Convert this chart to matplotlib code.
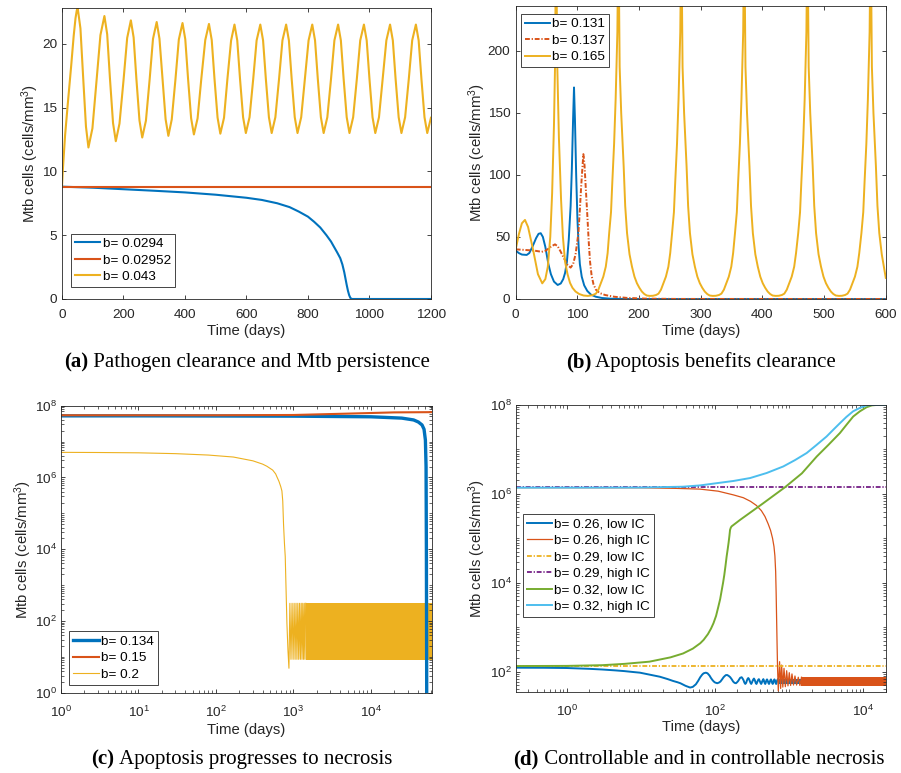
import numpy as np
import matplotlib
matplotlib.use("Agg")
import matplotlib.pyplot as plt
from matplotlib.ticker import FixedLocator, LogLocator, NullFormatter, LogFormatterSciNotation
from matplotlib.offsetbox import TextArea, HPacker, AnnotationBbox

plt.rcParams['font.family'] = ['Liberation Sans', 'DejaVu Sans']
plt.rcParams['mathtext.default'] = 'regular'
plt.rcParams['lines.scale_dashes'] = False
plt.rcParams['axes.linewidth'] = 0.6
plt.rcParams['axes.edgecolor'] = '#262626'

# MATLAB default colours
c1, c2, c3, c4, c5, c6 = '#0072BD', '#D95319', '#EDB120', '#7E2F8E', '#77AC30', '#4DBEEE'
dashdot = (3.5, 1.3, 0.9, 1.3)

# ---------------- panel (a) data ----------------
a_t_0294 = [0, 100, 200, 300, 400, 500, 600, 650, 700, 740, 770, 800, 820, 840, 860, 875, 882,
            895, 905, 912, 918, 922, 926, 930, 934, 938, 943, 1200]
a_v_0294 = [8.8, 8.72, 8.6, 8.48, 8.35, 8.17, 7.93, 7.76, 7.5, 7.2, 6.85, 6.45, 6.05, 5.6, 5.0,
            4.5, 4.2, 3.65, 3.2, 2.7, 2.1, 1.6, 1.1, 0.65, 0.3, 0.08, 0, 0]
a_t_02952 = [0, 1200]
a_v_02952 = [8.8, 8.8]
a_t_043 = [0, 3, 10, 20, 30, 38, 44, 48, 51,
           60, 69, 78, 86, 99, 112, 125, 138,
           147, 156, 166, 175, 187, 200, 212, 224,
           233, 242, 252, 261, 273, 285, 296, 308,
           317, 327, 337, 346, 357, 369, 380, 392,
           401, 410, 420, 429, 441, 453, 466, 478,
           487, 496, 506, 515, 527, 538, 550, 561,
           570, 579, 589, 598, 610, 622, 633, 645,
           654, 663, 673, 682, 694, 706, 717, 729,
           738, 747, 757, 766, 778, 790, 802, 814,
           823, 832, 842, 851, 863, 875, 886, 898,
           907, 916, 926, 935, 947, 959, 970, 982,
           991, 1000, 1010, 1019, 1031, 1043, 1055, 1067,
           1076, 1085, 1095, 1104, 1116, 1128, 1139, 1151,
           1160, 1169, 1179, 1188, 1200]
a_v_043 = [8.8, 10.2, 12.8, 15.6, 18.3, 20.6, 22.0, 22.6, 22.8,
           21.2, 17.3, 13.5, 11.87, 13.37, 17.0, 20.67, 22.17,
           20.74, 17.27, 13.79, 12.36, 13.74, 17.1, 20.45, 21.83,
           20.49, 17.24, 13.99, 12.65, 13.97, 17.18, 20.38, 21.70,
           20.4, 17.24, 14.08, 12.78, 14.07, 17.2, 20.33, 21.62,
           20.35, 17.26, 14.16, 12.89, 14.15, 17.22, 20.29, 21.55,
           20.29, 17.25, 14.21, 12.95, 14.2, 17.23, 20.25, 21.5,
           20.26, 17.25, 14.24, 13.0, 14.24, 17.25, 20.26, 21.5,
           20.26, 17.25, 14.24, 13.0, 14.24, 17.25, 20.26, 21.5,
           20.26, 17.25, 14.24, 13.0, 14.24, 17.25, 20.26, 21.5,
           20.26, 17.25, 14.24, 13.0, 14.24, 17.25, 20.26, 21.5,
           20.26, 17.25, 14.24, 13.0, 14.24, 17.25, 20.26, 21.5,
           20.26, 17.25, 14.24, 13.0, 14.24, 17.25, 20.26, 21.5,
           20.26, 17.25, 14.24, 13.0, 14.24, 17.25, 20.26, 21.5,
           20.26, 17.25, 14.24, 13.0, 14.2]

# ---------------- panel (b) data ----------------
b_t_131 = [0, 5, 10, 17.8, 22, 27, 33, 37, 40.5, 44, 48, 53, 57, 62, 68, 73, 77, 80, 83, 86, 89,
           91, 93, 94.5, 96, 98, 100, 102, 104, 107, 111, 116, 122, 130, 140, 155, 180, 600]
b_v_131 = [39, 37, 35.8, 35.5, 37, 42, 49, 52.5, 53, 50, 42, 28, 20, 14, 11.3, 12.5, 16, 21, 30,
           48, 75, 105, 145, 170.4, 145, 100, 65, 42, 28, 18, 11, 6.5, 3.5, 1.8, 0.8, 0.2, 0, 0]
b_t_137 = [0, 15, 30, 42, 48, 53, 58, 63.7, 68, 73, 78, 84, 89, 93, 97, 101.6, 104, 106, 108,
           109.7, 111.5, 113.5, 116, 118.5, 120.5, 123, 126, 130, 136, 145, 160, 180, 210, 260,
           600]
b_v_137 = [40, 39.5, 39, 38, 38.8, 40.5, 42.5, 44, 42.5, 38, 33, 27.5, 25.3, 28, 36, 53, 72, 90,
           105, 116.7, 108, 90, 68, 45, 30, 19, 12, 7.5, 4.8, 3.2, 1.8, 0.9, 0.3, 0.05, 0]
b_t_165 = [0, 5, 10, 15, 20, 28, 36, 43, 48, 52, 56, 59, 62, 63.7, 65.4, 67.4, 70, 73.5, 76.5,
           80, 84, 88, 92, 97, 103, 110, 117, 124, 130, 134, 138, 142, 146, 149,
           151.5, 154.5, 156.5, 159.5, 162, 164.8, 166.5, 168.5, 171, 175, 177.5, 180.5, 184.5,
           188.5, 192.5, 196.5, 200.5, 204.5, 208.5, 212.5, 217.5, 222.5, 227.5, 231.5, 235.5,
           239.5, 243.5, 247.5, 250.5,
           253.5, 256.5, 258.5, 261.5, 264, 266.8, 268.5, 270.5, 273, 277, 279.5, 282.5, 286.5,
           290.5, 294.5, 298.5, 302.5, 306.5, 310.5, 314.5, 319.5, 324.5, 329.5, 333.5, 337.5,
           341.5, 345.5, 349.5, 352.5,
           355.5, 358.5, 360.5, 363.5, 366, 368.8, 370.5, 372.5, 375, 379, 381.5, 384.5, 388.5,
           392.5, 396.5, 400.5, 404.5, 408.5, 412.5, 416.5, 421.5, 426.5, 431.5, 435.5, 439.5,
           443.5, 447.5, 451.5, 454.5,
           458, 461, 463, 466, 468.5, 471.3, 473, 475, 477.5, 481.5, 484, 487, 491,
           495, 499, 503, 507, 511, 515, 519, 524, 529, 534, 538, 542,
           546, 550, 554, 557,
           560.5, 563.5, 565.5, 568.5, 571, 573.8, 575.5, 577.5, 580, 584, 586.5, 589.5, 593.5,
           597.5, 600]
b_v_165 = [40, 52, 61, 63.7, 58, 40, 20, 12.6, 16, 26, 50, 85, 140, 187, 300, 187, 130, 80, 50,
           30, 20, 13, 9, 6, 4, 2.8, 2.5, 3, 4.3, 7.5, 12.7, 18, 26, 37,
           53, 70, 93, 125, 161, 215, 300, 187, 150, 107, 75, 53, 36, 26, 18, 12.7, 9, 6, 4, 2.8,
           2.5, 2.6, 3.2, 4.3, 7.5, 12.7, 18, 26, 37,
           53, 70, 93, 125, 161, 215, 300, 187, 150, 107, 75, 53, 36, 26, 18, 12.7, 9, 6, 4, 2.8,
           2.5, 2.6, 3.2, 4.3, 7.5, 12.7, 18, 26, 37,
           53, 70, 93, 125, 161, 215, 300, 187, 150, 107, 75, 53, 36, 26, 18, 12.7, 9, 6, 4, 2.8,
           2.5, 2.6, 3.2, 4.3, 7.5, 12.7, 18, 26, 37,
           53, 70, 93, 125, 161, 215, 300, 187, 150, 107, 75, 53, 36, 26, 18, 12.7, 9, 6, 4, 2.8,
           2.5, 2.6, 3.2, 4.3, 7.5, 12.7, 18, 26, 37,
           53, 70, 93, 125, 161, 215, 300, 187, 150, 107, 75, 53, 36, 24, 17]

# ---------------- panel (c) data ----------------
c_t_134 = [1, 10, 100, 1e3, 1e4, 2.5e4, 3.56e4, 4.1e4, 4.57e4, 4.85e4, 5.05e4, 5.15e4, 5.2e4,
           5.25e4, 5.3e4]
c_v_134 = [5.2e7, 5.2e7, 5.15e7, 5.1e7, 4.9e7, 4.5e7, 4.0e7, 3.5e7, 2.9e7, 2.2e7, 1.1e7, 2e6,
           1e4, 1.0, 0.01]
c_t_15 = [1, 100, 1e3, 5e3, 2e4, 6.15e4]
c_v_15 = [5.4e7, 5.4e7, 5.5e7, 6.0e7, 6.5e7, 6.6e7]
c_t_2 = [1, 3, 10, 30, 80, 168, 300, 400, 454, 540, 590, 612, 650, 685, 710, 728, 745, 765, 784,
         804, 824, 850, 875,
         900, 930, 960, 990, 1020, 1050, 1080, 1110, 1140, 1170, 1200, 1230, 1260, 1290,
         1320, 1350, 1380, 1410, 1440]
c_v_2 = [5e6, 4.95e6, 4.85e6, 4.6e6, 4.2e6, 3.7e6, 2.9e6, 2.35e6, 2.05e6, 1.6e6, 1.25e6, 1.04e6,
         7.8e5, 5.6e5, 4.2e5, 2.2e5, 5e4, 1.5e4, 6.2e3, 7e2, 85, 15, 4.8,
         310, 8.5, 310, 8.5, 310, 8.5, 310, 8.5, 310, 8.5, 310, 8.5, 310, 8.5,
         310, 8.5, 310, 8.5, 310]
# late oscillation envelope of b=0.2 (oscillations too dense to resolve)
c_band_t = [1440, 6.15e4]
c_band_lo = [8.3, 8.3]
c_band_hi = [310, 310]

# ---------------- panel (d) data ----------------
d_t_26lo = [0.205, 0.5, 1, 2, 3, 4.5, 6, 8, 9.7, 13, 18, 23, 27, 31, 34, 40, 46, 50, 55, 59, 63,
            67, 70, 75, 79, 84, 88, 92, 96, 100, 107, 113, 118, 124, 130, 135, 140, 146, 153,
            160, 168, 175, 183, 191, 198, 205, 212, 218, 228, 235, 242, 248, 255, 262, 268, 274,
            280, 287, 293, 300, 307, 314, 320, 327, 334, 341, 348, 354, 361, 368, 375, 382, 389,
            396, 404, 411, 418, 425, 432, 440, 447, 454, 460, 467, 474, 481, 487, 494, 501, 509,
            517, 525, 533, 541, 550, 558, 566, 574, 582, 590, 598, 606, 615, 623, 631, 640, 648,
            656, 665, 673, 682, 690, 700]
d_v_26lo = [123, 122.5, 121, 116, 112, 107, 103, 98, 95, 86, 77, 68, 62, 58, 55, 48, 44, 45.5,
            52, 62, 75, 86, 92, 95, 92, 82, 72, 65, 60, 57, 55, 57, 60, 67, 75, 80, 84, 84, 80,
            75, 67, 60, 56, 55, 58, 62, 68, 73, 75, 70, 64, 57, 53, 56, 63, 69, 72, 68, 62, 56,
            53, 57, 62, 67, 70, 66, 60, 55, 53, 57, 62, 66, 68, 64, 59, 55, 53, 56, 61, 65, 68,
            64, 59, 55, 53, 56, 61, 65, 67, 64, 59, 55, 53, 56, 61, 65, 67, 64, 59, 55, 53, 56,
            61, 65, 67, 64, 59, 55, 53, 56, 61, 65, 67]
d_band26lo_t = [700, 2.0e4]
d_band26lo_lo = [52, 52]
d_band26lo_hi = [67, 67]
d_t_26hi = [0.205, 10, 30, 62.6, 110, 176, 240, 300, 360, 420, 470, 520, 560, 595, 622, 640, 655,
            665, 675, 685, 695, 711,
            740, 765, 789, 818, 849, 885, 922, 960, 1000, 1043, 1087, 1140, 1193, 1255, 1323,
            1390, 1460]
d_v_26hi = [1.38e6, 1.37e6, 1.33e6, 1.28e6, 1.15e6, 9.5e5, 8.2e5, 6.8e5, 5.5e5, 4.2e5, 3.1e5,
            2.1e5, 1.5e5, 1.0e5, 6.5e4, 4e4, 1.8e4, 6e3, 1.5e3, 400, 120, 37,
            168, 42, 141, 45, 119, 46, 105, 48, 95, 49, 89, 50, 80, 50, 75, 49, 75]
d_band26hi_t = [1460, 2.0e4]
d_band26hi_lo = [48, 48]
d_band26hi_hi = [75, 75]
d_t_29lo = [0.205, 2.0e4]
d_v_29lo = [134, 134]
d_t_29hi = [0.205, 2.0e4]
d_v_29hi = [1.4e6, 1.4e6]
d_t_32lo = [0.205, 1, 3, 6, 13, 25, 37, 50, 63, 70, 80, 88, 95, 103, 110, 117, 123, 128, 133,
            138, 143, 148, 152, 156, 159, 163, 167, 217, 436, 875, 1480, 2340, 3360, 4820, 5920,
            7280, 8950, 1.1e4, 1.3e4, 1.5e4, 2.0e4]
d_v_32lo = [134, 135, 140, 150, 168, 210, 257, 330, 436, 520, 700, 930, 1230, 1800, 2800, 4300,
            6900, 1.0e4, 1.5e4, 2.4e4, 3.9e4, 5.8e4, 8e4, 1.15e5, 1.55e5, 1.75e5, 1.86e5, 2.6e5,
            6.0e5, 1.41e6, 2.9e6, 6.9e6, 1.26e7, 2.34e7, 3.6e7, 5.5e7, 7.2e7, 8.9e7, 9.8e7, 1e8,
            1e8]
d_t_32hi = [0.205, 10, 37, 62.6, 105, 176, 296, 496, 830, 1194, 1716, 2330, 3180, 3900, 4820,
            5900, 7250, 8950, 1.1e4, 1.3e4, 2.0e4]
d_v_32hi = [1.38e6, 1.39e6, 1.45e6, 1.55e6, 1.74e6, 1.95e6, 2.27e6, 2.95e6, 4.14e6, 5.75e6,
            8.3e6, 1.26e7, 1.95e7, 2.75e7, 3.9e7, 5.4e7, 7.2e7, 8.6e7, 9.8e7, 1e8, 1e8]

ylab = 'Mtb cells (cells/mm$^{3}$)'
tick_fs = 9.7
lab_fs = 10.7

fig = plt.figure(figsize=(9.01, 7.73), dpi=100)
axa = fig.add_axes([0.0688, 0.6132, 0.4095, 0.3765])
axb = fig.add_axes([0.5724, 0.6132, 0.4107, 0.3790])
axc = fig.add_axes([0.0677, 0.1039, 0.4118, 0.3713])
axd = fig.add_axes([0.5724, 0.1052, 0.4107, 0.3709])


def style(ax, xpad, ypad, xlab_y, ylab_x):
    ax.tick_params(which='both', direction='in', top=True, right=True,
                   labelsize=tick_fs, colors='#262626')
    ax.tick_params(axis='x', which='both', pad=xpad)
    ax.tick_params(axis='y', which='both', pad=ypad)
    ax.tick_params(which='major', length=3, width=0.6)
    ax.tick_params(which='minor', length=2, width=0.5)
    ax.set_xlabel('Time (days)', fontsize=lab_fs, color='#262626')
    ax.set_ylabel(ylab, fontsize=lab_fs, color='#262626')
    ax.xaxis.set_label_coords(0.5, xlab_y)
    ax.yaxis.set_label_coords(ylab_x, 0.5)


def legend(ax, loc, anchor):
    lg = ax.legend(loc=loc, bbox_to_anchor=anchor, fontsize=tick_fs, handlelength=1.9,
                   handletextpad=0.15, labelspacing=0.3, borderpad=0.3, borderaxespad=0,
                   fancybox=False, framealpha=1, edgecolor='#262626')
    lg.get_frame().set_linewidth(0.6)
    return lg


def log_axes(ax, xmajor, ymajor):
    ax.set_xscale('log')
    ax.set_yscale('log')
    ax.xaxis.set_major_locator(FixedLocator(xmajor))
    ax.yaxis.set_major_locator(FixedLocator(ymajor))
    ax.xaxis.set_major_formatter(LogFormatterSciNotation())
    ax.yaxis.set_major_formatter(LogFormatterSciNotation())
    for axis in (ax.xaxis, ax.yaxis):
        axis.set_minor_locator(LogLocator(base=10, subs=np.arange(1, 10), numticks=100))
        axis.set_minor_formatter(NullFormatter())


# (a)
axa.plot(a_t_0294, a_v_0294, color=c1, lw=1.5, label='b= 0.0294')
axa.plot(a_t_02952, a_v_02952, color=c2, lw=1.5, label='b= 0.02952')
axa.plot(a_t_043, a_v_043, color=c3, lw=1.5, label='b= 0.043')
axa.set_xlim(0, 1200)
axa.set_ylim(0, 22.8)
axa.set_xticks(np.arange(0, 1201, 200))
axa.set_yticks([0, 5, 10, 15, 20])
style(axa, 7.4, 3.6, -0.085, -0.056)
legend(axa, 'lower left', (0.024, 0.041))

# (b)
axb.plot(b_t_131, b_v_131, color=c1, lw=1.4, label='b= 0.131')
axb.plot(b_t_137, b_v_137, color=c2, lw=1.4, dashes=dashdot, label='b= 0.137')
axb.plot(b_t_165, b_v_165, color=c3, lw=1.4, label='b= 0.165')
axb.set_xlim(0, 600)
axb.set_ylim(0, 236)
axb.set_xticks(np.arange(0, 601, 100))
axb.set_yticks([0, 50, 100, 150, 200])
style(axb, 7.4, 4, -0.0843, -0.076)
legend(axb, 'upper left', (0.0135, 0.973))

# (c)
axc.plot(c_t_134, c_v_134, color=c1, lw=2.4, label='b= 0.134')
axc.plot(c_t_15, c_v_15, color=c2, lw=1.5, label='b= 0.15')
axc.plot(c_t_2, c_v_2, color=c3, lw=0.8, label='b= 0.2')
axc.fill_between(c_band_t, c_band_lo, c_band_hi, color=c3, lw=0)
log_axes(axc, [1, 10, 100, 1e3, 1e4], [1, 1e2, 1e4, 1e6, 1e8])
axc.set_xlim(1, 6.15e4)
axc.set_ylim(1, 1e8)
style(axc, 9, 3, -0.1056, -0.0725)
legend(axc, 'lower left', (0.0224, 0.027))

# (d)
axd.plot(d_t_26lo, d_v_26lo, color=c1, lw=1.4, label='b= 0.26, low IC')
axd.fill_between(d_band26lo_t, d_band26lo_lo, d_band26lo_hi, color=c1, lw=0)
axd.plot(d_t_26hi, d_v_26hi, color=c2, lw=0.9, label='b= 0.26, high IC')
axd.fill_between(d_band26hi_t, d_band26hi_lo, d_band26hi_hi, color=c2, lw=0)
axd.plot(d_t_29lo, d_v_29lo, color=c3, lw=1.3, dashes=dashdot, label='b= 0.29, low IC')
axd.plot(d_t_29hi, d_v_29hi, color=c4, lw=1.4, dashes=dashdot, label='b= 0.29, high IC')
axd.plot(d_t_32lo, d_v_32lo, color=c5, lw=1.4, label='b= 0.32, low IC')
axd.plot(d_t_32hi, d_v_32hi, color=c6, lw=1.4, label='b= 0.32, high IC')
log_axes(axd, [1, 1e2, 1e4], [1e2, 1e4, 1e6, 1e8])
axd.set_xlim(0.205, 2.0e4)
axd.set_ylim(35.5, 1e8)
style(axd, 9, 3, -0.0998, -0.076)
legend(axd, 'upper left', (0.019, 0.62))


def caption(x, y, tag, text):
    a = TextArea(tag, textprops=dict(family='Liberation Serif', weight='bold', size=15))
    b = TextArea(' ' + text, textprops=dict(family='Liberation Serif', size=15))
    box = HPacker(children=[a, b], align='baseline', pad=0, sep=0)
    ab = AnnotationBbox(box, (x, y), xycoords='figure fraction', frameon=False,
                        box_alignment=(0.5, 0.5), pad=0)
    fig.add_artist(ab)


caption(246.7 / 901, 1 - 362 / 773, '(a)', 'Pathogen clearance and Mtb persistence')
caption(701 / 901, 1 - 362 / 773, '(b)', 'Apoptosis benefits clearance')
caption(241.7 / 901, 1 - 759.3 / 773, '(c)', 'Apoptosis progresses to necrosis')
caption(699 / 901, 1 - 759.3 / 773, '(d)', 'Controllable and in controllable necrosis')

fig.savefig('out.png', dpi=100)
